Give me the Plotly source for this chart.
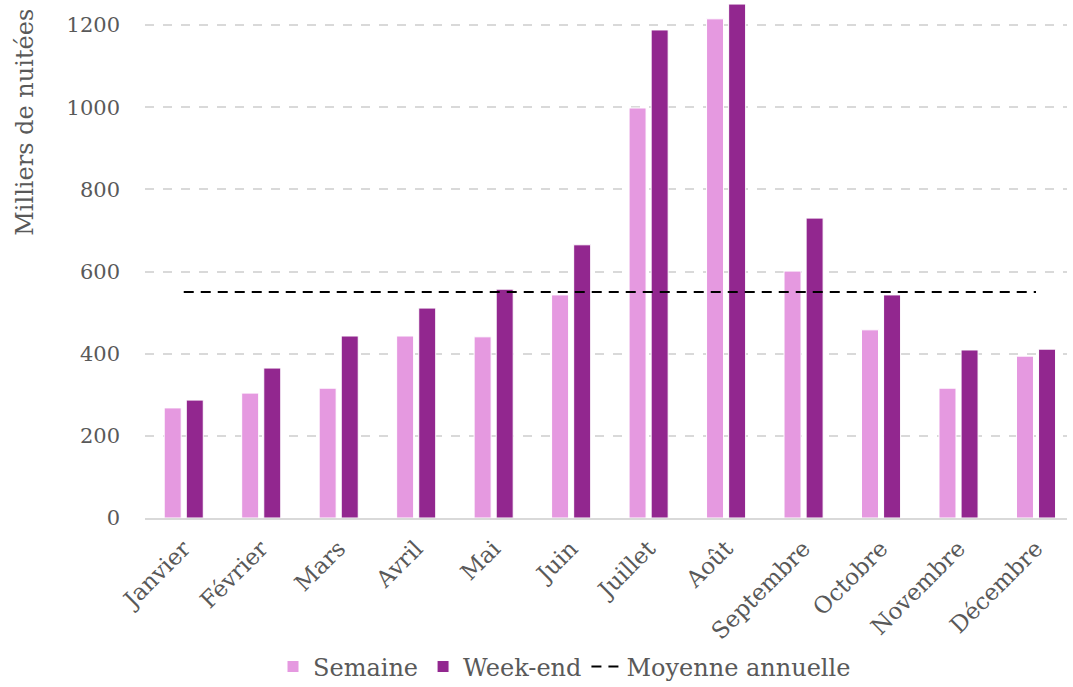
import plotly.graph_objects as go

mois = ["Janvier", "Février", "Mars", "Avril", "Mai", "Juin", "Juillet",
        "Août", "Septembre", "Octobre", "Novembre", "Décembre"]
semaine = [268, 304, 316, 443, 441, 543, 998, 1215, 601, 458, 316, 394]
week_end = [287, 365, 443, 511, 557, 665, 1188, 1251, 730, 543, 409, 411]
moyenne = [550] * len(mois)

FONT = "DejaVu Serif"
GREY = "#595959"

fig = go.Figure()
fig.add_trace(go.Bar(x=mois, y=semaine, name="Semaine",
                     marker=dict(color="#E599E0", line=dict(color="#FFFFFF", width=1))))
fig.add_trace(go.Bar(x=mois, y=week_end, name="Week-end",
                     marker=dict(color="#92278F", line=dict(color="#FFFFFF", width=1))))
fig.add_trace(go.Scatter(x=mois, y=moyenne, name="Moyenne annuelle", mode="lines",
                         line=dict(color="#000000", width=2, dash="10px,7px")))

fig.update_layout(
    width=1073, height=687,
    margin=dict(l=145, r=6, t=2, b=169, autoexpand=False),
    paper_bgcolor="white", plot_bgcolor="white",
    barmode="group", bargap=0.43, bargroupgap=0.23,
    font=dict(family=FONT, color=GREY, size=21),
    legend=dict(orientation="h", x=0.455, xanchor="center", y=-0.245, yanchor="top",
                font=dict(family=FONT, size=24, color=GREY), itemwidth=30,
                traceorder="normal"),
    showlegend=True,
    annotations=[dict(text="Milliers de nuitées", textangle=-90, showarrow=False,
                      xref="paper", yref="paper", x=-0.13, y=0.99,
                      xanchor="center", yanchor="top",
                      font=dict(family=FONT, size=24, color=GREY))],
)
fig.update_xaxes(range=[-0.5, 11.4], tickangle=-45, showgrid=False, automargin=False,
                 showline=True, linecolor="#d9d9d9", linewidth=2,
                 ticks="", ticklabelstandoff=6,
                 tickfont=dict(family=FONT, size=23, color=GREY))
fig.update_yaxes(range=[0, 1256], tickvals=[0, 200, 400, 600, 800, 1000, 1200],
                 showgrid=True, gridcolor="#d9d9d9", gridwidth=2, griddash="dash",
                 zeroline=False, showline=False, ticks="", ticklen=0, automargin=False,
                 ticklabelstandoff=24,
                 tickfont=dict(family=FONT, size=21, color=GREY))

fig.write_html("out.html", config={"displayModeBar": False},
               post_script="document.body.style.margin='0';")
